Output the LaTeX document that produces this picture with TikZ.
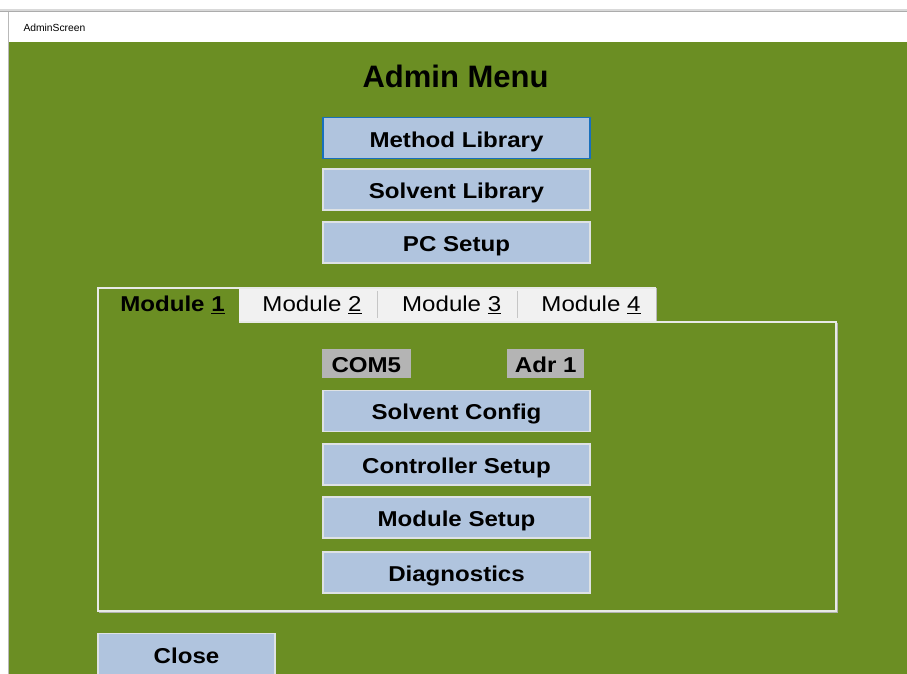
\documentclass[tikz,border=0pt]{standalone}
\usepackage{fontspec}
\setmainfont{Liberation Sans}
\definecolor{bggreen}{RGB}{107,142,35}
\definecolor{btnfill}{RGB}{176,196,222}
\definecolor{btnedge}{RGB}{222,226,228}
\definecolor{focusblue}{RGB}{24,112,188}
\definecolor{lblgray}{RGB}{180,180,180}
\definecolor{tabwhite}{RGB}{241,241,241}
\definecolor{panelline}{RGB}{232,234,230}
\newcommand{\hsq}[1]{\scalebox{1.12}[1]{#1}}
\tikzset{
  btn/.style={draw=btnedge, line width=1.6pt, fill=btnfill, minimum width=267.5pt,
    minimum height=41pt, inner sep=0pt, text height=20.5pt, text depth=2.5pt,
    font=\fontsize{21.5pt}{24pt}\selectfont\bfseries},
  lbl/.style={fill=lblgray, minimum height=29pt, inner sep=0pt, text height=20.5pt,
    text depth=2.5pt, font=\fontsize{21.5pt}{24pt}\selectfont\bfseries},
  tabtxt/.style={anchor=base, font=\fontsize{21.5pt}{24pt}\selectfont},
}
\begin{document}
\begin{tikzpicture}[x=1pt,y=-1pt]
\useasboundingbox (0,0) rectangle (907,674);
\clip (0,0) rectangle (907,674);
\fill[white] (0,0) rectangle (907,674);
\fill[bggreen] (8,42) rectangle (907,674);
\draw[gray!30, line width=2pt] (0,10) -- (907,10);
\draw[gray!65, line width=1pt] (0,12) -- (907,12);
\draw[gray!55, line width=0.8pt] (8,12) -- (8,674);
\node[anchor=base west, font=\fontsize{10.3pt}{12pt}\selectfont] (title) at (20,31.5) {AdminScreen};
\node[anchor=base, font=\fontsize{31pt}{34pt}\selectfont\bfseries] (head) at (455.5,88) {Admin Menu};
% top buttons
\node[btn, draw=focusblue] (method) at (456.5,138) {\hsq{Method Library}};
\node[btn] (solvlib) at (456.5,189.5) {\hsq{Solvent Library}};
\node[btn] (pcsetup) at (456.5,242.5) {\hsq{PC Setup}};
% tab strip and panel
\fill[tabwhite] (239,288) rectangle (656,321);
\draw[gray!55, line width=1pt] (656.5,288) -- (656.5,321);
\draw[gray!60, line width=1pt] (837,322.5) -- (837,612.5) -- (98.5,612.5);
\draw[panelline, line width=2pt] (239,321.5) -- (835.5,321.5) -- (835.5,611) -- (97.5,611) -- (97.5,287.5) -- (656,287.5);
\draw[gray!45, line width=1pt] (377,291) -- (377,318);
\draw[gray!45, line width=1pt] (517,291) -- (517,318);
\node[tabtxt, font=\fontsize{21.5pt}{24pt}\selectfont\bfseries] (tab1) at (172.5,311.7) {\hsq{Module \underline{1}}};
\node[tabtxt] (tab2) at (312,311.7) {\hsq{Module \underline{2}}};
\node[tabtxt] (tab3) at (451.7,311.7) {\hsq{Module \underline{3}}};
\node[tabtxt] (tab4) at (591,311.7) {\hsq{Module \underline{4}}};
% module panel content
\node[lbl, minimum width=89pt] (com) at (366.3,363.8) {\hsq{COM5}};
\node[lbl, minimum width=77pt] (adr) at (545.7,363.8) {\hsq{Adr 1}};
\node[btn] (solvcfg) at (456.5,410.8) {\hsq{Solvent Config}};
\node[btn] (ctrl) at (456.5,464.2) {\hsq{Controller Setup}};
\node[btn] (modset) at (456.5,517.5) {\hsq{Module Setup}};
\node[btn] (diag) at (456.5,572.5) {\hsq{Diagnostics}};
% close
\node[btn, minimum width=177pt, minimum height=42pt] (close) at (186.5,654.5) {\hsq{Close}};
\end{tikzpicture}
\end{document}
